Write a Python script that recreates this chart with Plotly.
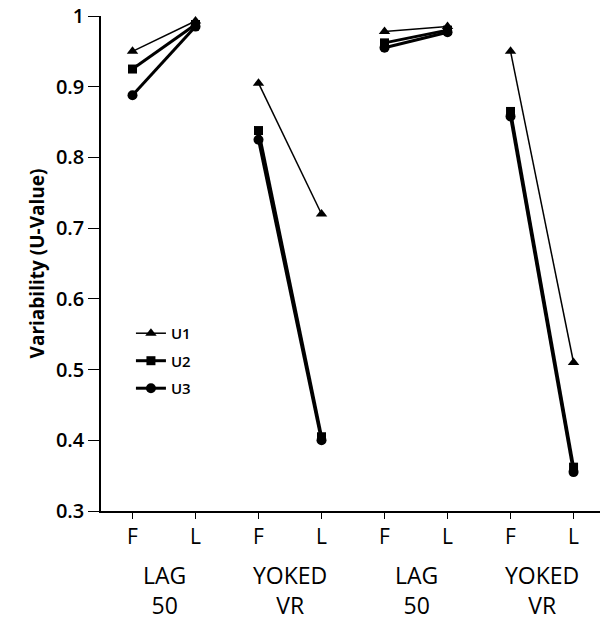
import plotly.graph_objects as go

# Phases within each condition, and the two-line condition labels below them
phases = ["F", "L", "F", "L", "F", "L", "F", "L"]
group_top = ["LAG", "YOKED", "LAG", "YOKED"]
group_bottom = ["50", "VR", "50", "VR"]

# U-values, first (F) and last (L) session of each condition
u1 = [0.950, 0.993, 0.905, 0.720, 0.978, 0.985, 0.950, 0.510]
u2 = [0.925, 0.988, 0.838, 0.405, 0.962, 0.980, 0.865, 0.362]
u3 = [0.888, 0.985, 0.825, 0.400, 0.955, 0.977, 0.858, 0.355]

series = [
    ("U1", u1, "triangle-up", 1.5, 10),
    ("U2", u2, "square", 3.0, 9),
    ("U3", u3, "circle", 3.0, 10),
]

FONT = "Open Sans, Lato, sans-serif"


def split_pairs(vals):
    """Insert gaps so each F-L pair is drawn as its own segment."""
    xs, ys = [], []
    for g in range(len(vals) // 2):
        xs += [2 * g, 2 * g + 1, None]
        ys += [vals[2 * g], vals[2 * g + 1], None]
    return xs, ys


fig = go.Figure()
for name, vals, sym, lw, ms in series:
    xs, ys = split_pairs(vals)
    fig.add_trace(go.Scatter(
        x=xs, y=ys, name=name, legendgroup=name, mode="lines+markers",
        line=dict(color="black", width=lw),
        marker=dict(symbol=sym, size=ms, color="black"),
        cliponaxis=False, connectgaps=False,
    ))

# condition labels: two centred lines under each F-L pair
for i, (top, bottom) in enumerate(zip(group_top, group_bottom)):
    fig.add_annotation(
        x=2 * i + 0.5, y=0, xref="x", yref="paper",
        text=f"{top}<br>{bottom}", showarrow=False,
        yanchor="top", yshift=-46, align="center",
        font=dict(family=FONT, size=23, color="black"),
    )

fig.update_layout(
    width=600, height=622,
    margin=dict(l=101, r=0, t=16, b=111),
    plot_bgcolor="white", paper_bgcolor="white",
    font=dict(family=FONT, color="black"),
    showlegend=True,
    legend=dict(
        x=0.06, y=0.392, xanchor="left", yanchor="top",
        bgcolor="rgba(0,0,0,0)", itemwidth=30,
        font=dict(size=15, color="black", weight=600),
        tracegroupgap=5,
    ),
)

fig.update_xaxes(
    range=[-0.5, 7.42],
    tickmode="array", tickvals=list(range(len(phases))), ticktext=phases,
    tickson="boundaries", ticks="outside", ticklen=6, tickwidth=1.2,
    tickcolor="black", showline=True, linecolor="black", linewidth=2,
    showgrid=False, zeroline=False,
    tickfont=dict(size=21, color="black"),
)

fig.update_yaxes(
    range=[0.3, 1.0],
    tickmode="array",
    tickvals=[0.3, 0.4, 0.5, 0.6, 0.7, 0.8, 0.9, 1.0],
    ticktext=["0.3", "0.4", "0.5", "0.6", "0.7", "0.8", "0.9", "1"],
    ticks="outside", ticklen=11, tickwidth=1.2, tickcolor="black",
    showline=True, linecolor="black", linewidth=1.5,
    showgrid=False, zeroline=False,
    tickfont=dict(size=20, color="black", weight=600),
    title=dict(text="<b>Variability (U-Value)</b>", standoff=6,
               font=dict(size=19, color="black")),
)

fig.write_html("out.html")
